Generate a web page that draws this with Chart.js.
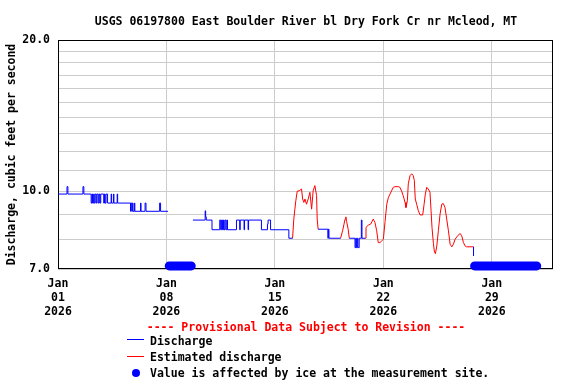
<!DOCTYPE html>
<html>
<head>
<meta charset="utf-8">
<title>USGS 06197800 East Boulder River bl Dry Fork Cr nr Mcleod, MT</title>
<script src="https://cdn.jsdelivr.net/npm/chart.js@4.4.1/dist/chart.umd.min.js"></script>
<style>
  body { margin: 0; background: #fff; }
  #wrap {
    position: relative; width: 576px; height: 384px;
    font-family: 'DejaVu Sans Mono', 'Liberation Mono', monospace;
    font-weight: bold; font-size: 11.5px; color: #000;
  }
  #chartCanvas { position: absolute; left: 0; top: 0; }
  .txt { position: absolute; white-space: nowrap; line-height: 14px; }
  .center { transform: translateX(-50%); }
  .swatch { position: absolute; width: 17px; height: 1px; }
  .dot { position: absolute; width: 8px; height: 8px; border-radius: 50%; background: #0000ff; }
</style>
</head>
<body>
<div id="wrap">
  <canvas id="chartCanvas" width="576" height="384"></canvas>
  <div class="txt center" style="left:306px; top:14px;">USGS 06197800 East Boulder River bl Dry Fork Cr nr Mcleod, MT</div>
  <div class="txt center" style="left:306px; top:320px; color:#ff0000;">---- Provisional Data Subject to Revision ----</div>
  <div class="swatch" style="left:127px; top:339px; background:#0000ff;"></div>
  <div class="txt" style="left:150px; top:334px;">Discharge</div>
  <div class="swatch" style="left:127px; top:356px; background:#ff0000;"></div>
  <div class="txt" style="left:150px; top:350px;">Estimated discharge</div>
  <div class="dot" style="left:132px; top:369px;"></div>
  <div class="txt" style="left:150px; top:366px;">Value is affected by ice at the measurement site.</div>
</div>
<script>
// Time is counted in days of January 2026 (1.0 = Jan 01 00:00)
// Discharge (blue), each value holds until the next point; null breaks the line
const dischargeDays = [
  1.00, 1.58, 1.64, 2.61, 2.67, 3.14, 3.19, 3.23, 3.30, 3.34, 3.40, 3.47, 3.52, 3.60, 3.66, 3.71, 3.76,
  3.95, 4.00, 4.04, 4.10, 4.20, 4.43, 4.46, 4.58, 4.61, 4.82, 4.85, 5.68, 5.70, 5.76, 5.80, 5.84, 5.93,
  5.96, 6.33, 6.36, 6.62, 6.68, 7.56, 7.62, 8.10, 8.50,
  9.71, 10.50, 10.53, 10.57, 10.94, 11.44, 11.50, 11.56, 11.62, 11.68, 11.72, 11.78, 11.84, 11.90, 11.94,
  12.52, 12.73, 12.76, 13.01, 13.04, 13.27, 13.30, 14.13, 14.52, 14.56, 14.72, 15.90, 16.14, 17.00,
  17.79, 18.42, 18.45, 18.49, 19.24, 19.50,
  19.80, 20.17, 20.22, 20.26, 20.32, 20.36, 20.44, 20.58, 20.62, 20.83, 24.00,
  27.81, 27.82
];
const dischargeCfs = [
  9.87, 10.21, 9.87, 10.21, 9.87, 9.47, 9.87, 9.47, 9.87, 9.47, 9.87, 9.47, 9.87, 9.47, 9.87, 9.47, 9.87,
  9.47, 9.87, 9.47, 9.87, 9.47, 9.87, 9.47, 9.87, 9.47, 9.87, 9.47, 9.12, 9.47, 9.12, 9.47, 9.12, 9.47,
  9.12, 9.47, 9.12, 9.47, 9.12, 9.47, 9.12, 9.12, null,
  8.76, 9.14, 8.89, 8.76, 8.38, 8.76, 8.38, 8.76, 8.38, 8.76, 8.38, 8.76, 8.38, 8.76, 8.38,
  8.76, 8.38, 8.76, 8.38, 8.76, 8.38, 8.76, 8.38, 8.60, 8.76, 8.38, 8.06, 8.06, null,
  8.40, 8.06, 8.40, 8.06, 8.06, null,
  8.06, 7.72, 8.06, 7.72, 8.06, 7.72, 8.06, 8.76, 8.06, 8.06, null,
  7.75, 7.43
];

// Estimated discharge (red)
const estimatedDays = [
  16.14, 16.22, 16.29, 16.35, 16.44, 16.57, 16.72, 16.79, 16.87, 16.94, 17.04, 17.15, 17.26, 17.37,
  17.47, 17.58, 17.69, 17.73, 17.79, 18.50,
  19.24, 19.37, 19.45, 19.53, 19.58, 19.63, 19.73, 19.80, 20.30,
  20.83, 20.88, 21.03, 21.18, 21.35, 21.46, 21.57, 21.67, 21.78, 21.89, 22.00, 22.11, 22.22, 22.32,
  22.43, 22.64, 22.75, 22.97, 23.07, 23.18, 23.28, 23.40, 23.46, 23.55, 23.61, 23.72, 23.83, 23.93,
  24.00, 24.06, 24.15, 24.26, 24.37, 24.54, 24.63, 24.71, 24.80, 24.90, 25.01, 25.08, 25.14, 25.23,
  25.29, 25.36, 25.45, 25.55, 25.66, 25.77, 25.87, 25.98, 26.09, 26.20, 26.31, 26.42, 26.52, 26.63,
  26.74, 26.95, 27.06, 27.17, 27.28, 27.36, 27.81
];
const estimatedCfs = [
  8.06, 8.80, 9.21, 9.57, 10.00, 10.02, 10.10, 9.65, 9.50, 9.65, 9.42, 9.65, 9.95, 9.21,
  10.02, 10.26, 9.80, 8.80, 8.40, null,
  8.06, 8.34, 8.57, 8.80, 8.89, 8.70, 8.40, 8.06, null,
  8.06, 8.47, 8.56, 8.60, 8.80, 8.66, 8.34, 7.90, 7.90, 7.96, 8.02, 8.70, 9.42, 9.70,
  9.87, 10.18, 10.21, 10.21, 10.18, 10.00, 9.80, 9.50, 9.28, 9.57, 10.34, 10.74, 10.83, 10.74,
  10.50, 9.65, 9.42, 9.14, 8.97, 8.97, 9.42, 9.87, 10.18, 10.10, 9.95, 9.14, 8.47, 7.87,
  7.60, 7.51, 7.78, 8.34, 9.00, 9.42, 9.45, 9.28, 8.80, 8.34, 7.84, 7.75, 7.84, 8.02,
  8.11, 8.24, 8.15, 7.90, 7.78, 7.75, 7.75
];

// Ice-affected periods (start, end), marked along the bottom
const iceDays = [8.18, 9.60, 18.00, 27.89, 31.90];
const iceCfs = [7.1, 7.1, null, 7.1, 7.1];

// Axis ticks
const xTickDays = [1, 8, 15, 22, 29];
const yTickValues = [7, 8, 9, 10, 11, 12, 13, 14, 15, 16, 17, 18, 19, 20];
const yLabelValues = [7, 10, 20];

const toPoints = (days, values) => days.map((d, i) => ({ x: d, y: values[i] }));

const labelFont = { family: "'DejaVu Sans Mono', 'Liberation Mono', monospace", size: 11.5, weight: 'bold', lineHeight: 1.22 };

// Black frame round the plot area, drawn under the data
const framePlugin = {
  id: 'frame',
  beforeDatasetsDraw(chart) {
    const { ctx, chartArea: a } = chart;
    ctx.save();
    ctx.strokeStyle = '#000';
    ctx.lineWidth = 1;
    ctx.strokeRect(Math.round(a.left) + 0.5, Math.round(a.top) + 0.5,
      Math.round(a.right - a.left) - 1, Math.round(a.bottom - a.top) - 1);
    ctx.restore();
  }
};

new Chart(document.getElementById('chartCanvas'), {
  type: 'line',
  data: {
    datasets: [
      {
        label: 'Discharge',
        data: toPoints(dischargeDays, dischargeCfs),
        borderColor: '#0000ff',
        borderWidth: 1,
        stepped: 'before',
        pointRadius: 0
      },
      {
        label: 'Estimated discharge',
        data: toPoints(estimatedDays, estimatedCfs),
        borderColor: '#ff0000',
        borderWidth: 1,
        tension: 0,
        pointRadius: 0
      },
      {
        label: 'Value is affected by ice at the measurement site.',
        data: toPoints(iceDays, iceCfs),
        borderColor: '#0000ff',
        borderWidth: 9,
        borderCapStyle: 'round',
        pointRadius: 0,
        clip: false
      }
    ]
  },
  options: {
    responsive: false,
    animation: false,
    events: [],
    layout: { padding: { top: 40, right: 23, bottom: 0, left: 0 } },
    plugins: {
      legend: { display: false },
      tooltip: { enabled: false },
      title: { display: false }
    },
    scales: {
      x: {
        type: 'linear',
        min: 1,
        max: 32.95,
        afterBuildTicks: scale => { scale.ticks = xTickDays.map(v => ({ value: v })); },
        afterFit: scale => { scale.height = 115; },
        grid: { color: '#cccccc', lineWidth: 1, drawTicks: false },
        border: { display: false },
        ticks: {
          autoSkip: false,
          maxRotation: 0,
          padding: 8,
          color: '#000',
          font: labelFont,
          callback: v => ['Jan', String(v).padStart(2, '0'), '2026']
        }
      },
      y: {
        type: 'logarithmic',
        min: 7,
        max: 20,
        afterBuildTicks: scale => { scale.ticks = yTickValues.map(v => ({ value: v })); },
        afterFit: scale => { scale.width = 58; },
        grid: { color: '#cccccc', lineWidth: 1, drawTicks: false },
        border: { display: false },
        title: {
          display: true,
          text: 'Discharge, cubic feet per second',
          color: '#000',
          font: labelFont,
          padding: { top: 5, bottom: 0 }
        },
        ticks: {
          autoSkip: false,
          padding: 8,
          color: '#000',
          font: labelFont,
          callback: v => yLabelValues.includes(v) ? v.toFixed(1) : ''
        }
      }
    }
  },
  plugins: [framePlugin]
});
</script>
</body>
</html>
